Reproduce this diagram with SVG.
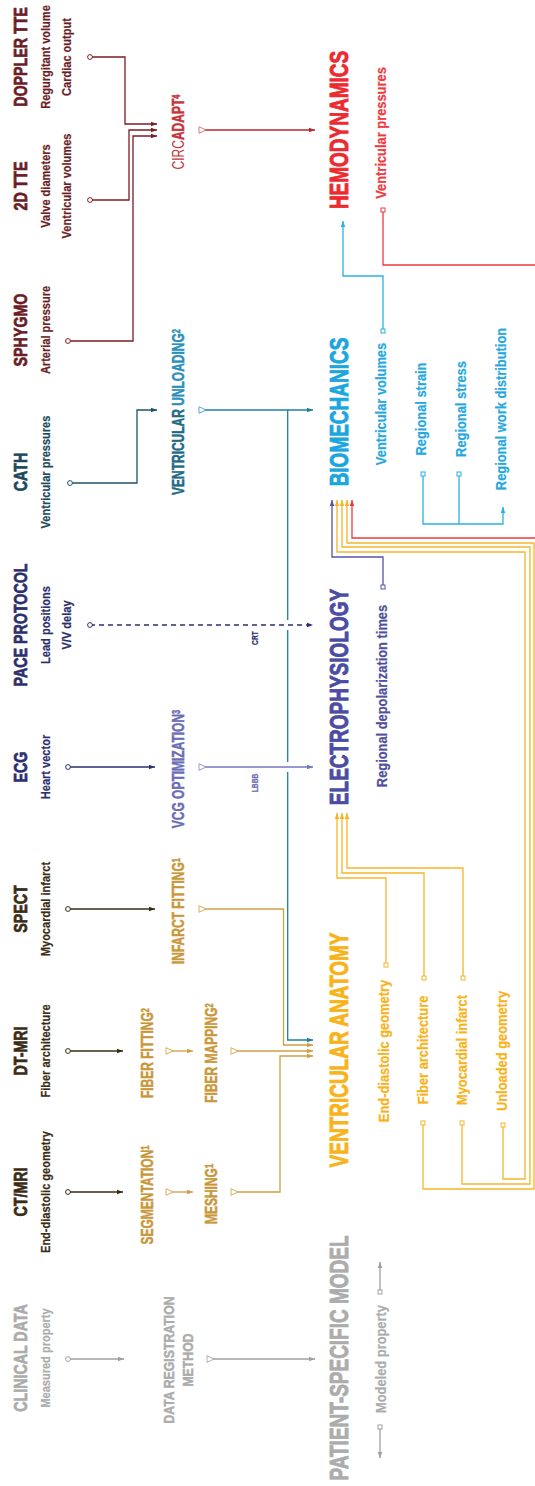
<svg xmlns="http://www.w3.org/2000/svg" width="535" height="1486" viewBox="0 0 535 1486">
<style>
text{font-family:'Liberation Sans',Arial,sans-serif;font-weight:bold;text-anchor:middle}
.h{font-size:19px;stroke-width:0.7}
.p{font-size:12px;stroke-width:0.2}
.m{font-size:16px;stroke-width:0.5}
.t{font-size:25px;stroke-width:0.9}
.q{font-size:14px;stroke-width:0.2}
.s{font-size:9px;stroke-width:0.2}
.d{font-size:15px;stroke-width:0.5}
.sup{font-size:10px}
.gray{fill:#acacac;stroke:#acacac}
.brown{fill:#3a2c14;stroke:#3a2c14}
.navy{fill:#2c2f6e;stroke:#2c2f6e}
.dteal{fill:#1c4a5c;stroke:#1c4a5c}
.maroon{fill:#6b1d25;stroke:#6b1d25}
.gold{fill:#c9973a;stroke:#c9973a}
.slate{fill:#6b6db5;stroke:#6b6db5}
.yellow{fill:#f8b31b;stroke:#f8b31b}
.purple{fill:#4f4f9e;stroke:#4f4f9e}
.cyan{fill:#25a8e0;stroke:#25a8e0}
.red{fill:#ec2a30;stroke:#ec2a30}
</style>
<defs>
<marker id="aGray" viewBox="0 0 6 6" refX="6" refY="3" markerWidth="6" markerHeight="6" orient="auto" markerUnits="userSpaceOnUse"><path d="M0,0.7L6,3L0,5.3z" fill="#a0a0a0"/></marker>
<marker id="aBrown" viewBox="0 0 6 6" refX="6" refY="3" markerWidth="6" markerHeight="6" orient="auto" markerUnits="userSpaceOnUse"><path d="M0,0.7L6,3L0,5.3z" fill="#3a2c14"/></marker>
<marker id="aNavy" viewBox="0 0 6 6" refX="6" refY="3" markerWidth="6" markerHeight="6" orient="auto" markerUnits="userSpaceOnUse"><path d="M0,0.7L6,3L0,5.3z" fill="#2c2f6e"/></marker>
<marker id="aDteal" viewBox="0 0 6 6" refX="6" refY="3" markerWidth="6" markerHeight="6" orient="auto" markerUnits="userSpaceOnUse"><path d="M0,0.7L6,3L0,5.3z" fill="#1d5466"/></marker>
<marker id="aMaroon" viewBox="0 0 6 6" refX="6" refY="3" markerWidth="6" markerHeight="6" orient="auto" markerUnits="userSpaceOnUse"><path d="M0,0.7L6,3L0,5.3z" fill="#7c1d25"/></marker>
<marker id="aGold" viewBox="0 0 6 6" refX="6" refY="3" markerWidth="6" markerHeight="6" orient="auto" markerUnits="userSpaceOnUse"><path d="M0,0.7L6,3L0,5.3z" fill="#cf9f42"/></marker>
<marker id="aTeal" viewBox="0 0 6 6" refX="6" refY="3" markerWidth="6" markerHeight="6" orient="auto" markerUnits="userSpaceOnUse"><path d="M0,0.7L6,3L0,5.3z" fill="#1c7fa6"/></marker>
<marker id="aSlate" viewBox="0 0 6 6" refX="6" refY="3" markerWidth="6" markerHeight="6" orient="auto" markerUnits="userSpaceOnUse"><path d="M0,0.7L6,3L0,5.3z" fill="#7577bd"/></marker>
<marker id="aCirc" viewBox="0 0 6 6" refX="6" refY="3" markerWidth="6" markerHeight="6" orient="auto" markerUnits="userSpaceOnUse"><path d="M0,0.7L6,3L0,5.3z" fill="#b8262e"/></marker>
<marker id="aRed" viewBox="0 0 6 6" refX="6" refY="3" markerWidth="6" markerHeight="6" orient="auto" markerUnits="userSpaceOnUse"><path d="M0,0.7L6,3L0,5.3z" fill="#ec3a42"/></marker>
<marker id="aCyan" viewBox="0 0 6 6" refX="6" refY="3" markerWidth="6" markerHeight="6" orient="auto" markerUnits="userSpaceOnUse"><path d="M0,0.7L6,3L0,5.3z" fill="#2bb0e3"/></marker>
<marker id="aYellow" viewBox="0 0 6 6" refX="6" refY="3" markerWidth="6" markerHeight="6" orient="auto" markerUnits="userSpaceOnUse"><path d="M0,0.7L6,3L0,5.3z" fill="#f6b529"/></marker>
<marker id="aPurple" viewBox="0 0 6 6" refX="6" refY="3" markerWidth="6" markerHeight="6" orient="auto" markerUnits="userSpaceOnUse"><path d="M0,0.7L6,3L0,5.3z" fill="#5555a8"/></marker>
<marker id="cGray" viewBox="0 0 7 7" refX="3.5" refY="3.5" markerWidth="7" markerHeight="7" markerUnits="userSpaceOnUse"><circle cx="3.5" cy="3.5" r="2.4" fill="#fff" stroke="#a0a0a0" stroke-width="1"/></marker>
<marker id="cBrown" viewBox="0 0 7 7" refX="3.5" refY="3.5" markerWidth="7" markerHeight="7" markerUnits="userSpaceOnUse"><circle cx="3.5" cy="3.5" r="2.4" fill="#fff" stroke="#3a2c14" stroke-width="1"/></marker>
<marker id="cNavy" viewBox="0 0 7 7" refX="3.5" refY="3.5" markerWidth="7" markerHeight="7" markerUnits="userSpaceOnUse"><circle cx="3.5" cy="3.5" r="2.4" fill="#fff" stroke="#2c2f6e" stroke-width="1"/></marker>
<marker id="cDteal" viewBox="0 0 7 7" refX="3.5" refY="3.5" markerWidth="7" markerHeight="7" markerUnits="userSpaceOnUse"><circle cx="3.5" cy="3.5" r="2.4" fill="#fff" stroke="#1d5466" stroke-width="1"/></marker>
<marker id="cMaroon" viewBox="0 0 7 7" refX="3.5" refY="3.5" markerWidth="7" markerHeight="7" markerUnits="userSpaceOnUse"><circle cx="3.5" cy="3.5" r="2.4" fill="#fff" stroke="#7c1d25" stroke-width="1"/></marker>
<marker id="tGray" viewBox="0 0 9 9" refX="1" refY="4.5" markerWidth="9" markerHeight="9" orient="auto" markerUnits="userSpaceOnUse"><path d="M1,1.2L8,4.5L1,7.8z" fill="#fff" stroke="#b0b0b0" stroke-width="1"/></marker>
<marker id="tGold" viewBox="0 0 9 9" refX="1" refY="4.5" markerWidth="9" markerHeight="9" orient="auto" markerUnits="userSpaceOnUse"><path d="M1,1.2L8,4.5L1,7.8z" fill="#fff" stroke="#d8ad5c" stroke-width="1"/></marker>
<marker id="tTeal" viewBox="0 0 9 9" refX="1" refY="4.5" markerWidth="9" markerHeight="9" orient="auto" markerUnits="userSpaceOnUse"><path d="M1,1.2L8,4.5L1,7.8z" fill="#fff" stroke="#5aa9c8" stroke-width="1"/></marker>
<marker id="tSlate" viewBox="0 0 9 9" refX="1" refY="4.5" markerWidth="9" markerHeight="9" orient="auto" markerUnits="userSpaceOnUse"><path d="M1,1.2L8,4.5L1,7.8z" fill="#fff" stroke="#9a9cd0" stroke-width="1"/></marker>
<marker id="tCirc" viewBox="0 0 9 9" refX="1" refY="4.5" markerWidth="9" markerHeight="9" orient="auto" markerUnits="userSpaceOnUse"><path d="M1,1.2L8,4.5L1,7.8z" fill="#fff" stroke="#de7a80" stroke-width="1"/></marker>
<marker id="sGray" viewBox="0 0 6 6" refX="3" refY="3" markerWidth="6" markerHeight="6" markerUnits="userSpaceOnUse"><rect x="1" y="1" width="4" height="4" fill="#fff" stroke="#a0a0a0" stroke-width="1"/></marker>
<marker id="sRed" viewBox="0 0 6 6" refX="3" refY="3" markerWidth="6" markerHeight="6" markerUnits="userSpaceOnUse"><rect x="1" y="1" width="4" height="4" fill="#fff" stroke="#ec3a42" stroke-width="1"/></marker>
<marker id="sCyan" viewBox="0 0 6 6" refX="3" refY="3" markerWidth="6" markerHeight="6" markerUnits="userSpaceOnUse"><rect x="1" y="1" width="4" height="4" fill="#fff" stroke="#2bb0e3" stroke-width="1"/></marker>
<marker id="sPurple" viewBox="0 0 6 6" refX="3" refY="3" markerWidth="6" markerHeight="6" markerUnits="userSpaceOnUse"><rect x="1" y="1" width="4" height="4" fill="#fff" stroke="#5555a8" stroke-width="1"/></marker>
<marker id="sYellow" viewBox="0 0 6 6" refX="3" refY="3" markerWidth="6" markerHeight="6" markerUnits="userSpaceOnUse"><rect x="1" y="1" width="4" height="4" fill="#fff" stroke="#f6b529" stroke-width="1"/></marker>
</defs>
<rect width="535" height="1486" fill="#fff"/>

<g id="connectors" fill="none" stroke-width="1.3">
<path d="M68 1359H124" stroke="#a0a0a0" marker-start="url(#cGray)" marker-end="url(#aGray)"/>
<path d="M207 1359H315" stroke="#a0a0a0" marker-start="url(#tGray)" marker-end="url(#aGray)"/>
<path d="M380 1292V1262" stroke="#a0a0a0" marker-start="url(#sGray)" marker-end="url(#aGray)"/>
<path d="M380 1427V1458" stroke="#a0a0a0" marker-start="url(#sGray)" marker-end="url(#aGray)"/>
<path d="M68 1192H123" stroke="#3a2c14" marker-start="url(#cBrown)" marker-end="url(#aBrown)"/>
<path d="M68 1051H123" stroke="#3a2c14" marker-start="url(#cBrown)" marker-end="url(#aBrown)"/>
<path d="M68 909H155" stroke="#3a2c14" marker-start="url(#cBrown)" marker-end="url(#aBrown)"/>
<path d="M68 767H155" stroke="#2c2f6e" marker-start="url(#cNavy)" marker-end="url(#aNavy)"/>
<path d="M90 625H313" stroke="#2c2f6e" stroke-dasharray="5 4" marker-start="url(#cNavy)" marker-end="url(#aNavy)"/>
<path d="M70 483H137V410H157" stroke="#1d5466" marker-start="url(#cDteal)" marker-end="url(#aDteal)"/>
<path d="M68 341H133V136H157" stroke="#7c1d25" marker-start="url(#cMaroon)" marker-end="url(#aMaroon)"/>
<path d="M90 200H129V130H157" stroke="#7c1d25" marker-start="url(#cMaroon)" marker-end="url(#aMaroon)"/>
<path d="M90 57H125V124H157" stroke="#7c1d25" marker-start="url(#cMaroon)" marker-end="url(#aMaroon)"/>
<path d="M166 1192H193" stroke="#cf9f42" marker-start="url(#tGold)" marker-end="url(#aGold)"/>
<path d="M166 1051H193" stroke="#cf9f42" marker-start="url(#tGold)" marker-end="url(#aGold)"/>
<path d="M231 1192H280V1056H313" stroke="#cf9f42" marker-start="url(#tGold)" marker-end="url(#aGold)"/>
<path d="M231 1051H313" stroke="#cf9f42" marker-start="url(#tGold)" marker-end="url(#aGold)"/>
<path d="M199 909H283.5V1045H313" stroke="#cf9f42" marker-start="url(#tGold)" marker-end="url(#aGold)"/>
<path d="M199 410H313" stroke="#1c7fa6" marker-start="url(#tTeal)" marker-end="url(#aTeal)"/>
<path d="M287.7 410V620M287.7 630V762" stroke="#1c7fa6"/>
<path d="M287.7 772V1040H313" stroke="#1c7fa6" marker-end="url(#aTeal)"/>
<path d="M199 767H313" stroke="#7577bd" marker-start="url(#tSlate)" marker-end="url(#aSlate)"/>
<path d="M199 130H315" stroke="#b8262e" marker-start="url(#tCirc)" marker-end="url(#aCirc)"/>
<path d="M383 210V265H540V538H352V500" stroke="#ec3a42" marker-start="url(#sRed)" marker-end="url(#aRed)"/>
<path d="M383 331V276H343V221" stroke="#2bb0e3" marker-start="url(#sCyan)" marker-end="url(#aCyan)"/>
<path d="M423 474V524H503V507" stroke="#2bb0e3" marker-start="url(#sCyan)" marker-end="url(#aCyan)"/>
<path d="M459 474V524" stroke="#2bb0e3" marker-start="url(#sCyan)"/>
<path d="M383 587V557H332V500" stroke="#5555a8" marker-start="url(#sPurple)" marker-end="url(#aPurple)"/>
<path d="M386 965V878H337V813" stroke="#f6b529" marker-start="url(#sYellow)" marker-end="url(#aYellow)"/>
<path d="M424 978V873H342V813" stroke="#f6b529" marker-start="url(#sYellow)" marker-end="url(#aYellow)"/>
<path d="M463 978V868H347V813" stroke="#f6b529" marker-start="url(#sYellow)" marker-end="url(#aYellow)"/>
<path d="M423 1123V1189H534V543H347V500" stroke="#f6b529" marker-start="url(#sYellow)" marker-end="url(#aYellow)"/>
<path d="M462 1123V1184H530V547H342V500" stroke="#f6b529" marker-start="url(#sYellow)" marker-end="url(#aYellow)"/>
<path d="M503 1125V1179H525V552H337V500" stroke="#f6b529" marker-start="url(#sYellow)" marker-end="url(#aYellow)"/>
</g>

<g id="legend-clinical">
<text class="h gray" transform="translate(27 1358) rotate(-90) scale(0.75 1)">CLINICAL DATA</text>
<text class="p gray" transform="translate(50 1358) rotate(-90) scale(0.92 1)">Measured property</text>
</g>
<g id="legend-method">
<text class="d gray" transform="translate(174 1360) rotate(-90) scale(0.82 1)">DATA REGISTRATION</text>
<text class="d gray" transform="translate(193 1360) rotate(-90) scale(0.82 1)">METHOD</text>
</g>
<g id="legend-model">
<text class="t gray" transform="translate(348 1358) rotate(-90) scale(0.76 1)">PATIENT-SPECIFIC MODEL</text>
<text class="q gray" transform="translate(386 1359) rotate(-90) scale(0.92 1)">Modeled property</text>
</g>

<g id="ct-mri">
<text class="h brown" transform="translate(27 1192) rotate(-90) scale(0.75 1)">CT/MRI</text>
<text class="p brown" transform="translate(50 1192) rotate(-90) scale(0.92 1)">End-diastolic geometry</text>
</g>
<g id="dt-mri">
<text class="h brown" transform="translate(27 1051) rotate(-90) scale(0.75 1)">DT-MRI</text>
<text class="p brown" transform="translate(50 1051) rotate(-90) scale(0.92 1)">Fiber architecture</text>
</g>
<g id="spect">
<text class="h brown" transform="translate(27 909) rotate(-90) scale(0.75 1)">SPECT</text>
<text class="p brown" transform="translate(50 909) rotate(-90) scale(0.92 1)">Myocardial infarct</text>
</g>
<g id="ecg">
<text class="h navy" transform="translate(27 767) rotate(-90) scale(0.75 1)">ECG</text>
<text class="p navy" transform="translate(50 767) rotate(-90) scale(0.92 1)">Heart vector</text>
</g>
<g id="pace-protocol">
<text class="h navy" transform="translate(27 625) rotate(-90) scale(0.75 1)">PACE PROTOCOL</text>
<text class="p navy" transform="translate(50 625) rotate(-90) scale(0.92 1)">Lead positions</text>
<text class="p navy" transform="translate(71 625) rotate(-90) scale(0.92 1)">V/V delay</text>
</g>
<g id="cath">
<text class="h dteal" transform="translate(27 472) rotate(-90) scale(0.75 1)">CATH</text>
<text class="p dteal" transform="translate(50 472) rotate(-90) scale(0.92 1)">Ventricular pressures</text>
</g>
<g id="sphygmo">
<text class="h maroon" transform="translate(27 330) rotate(-90) scale(0.75 1)">SPHYGMO</text>
<text class="p maroon" transform="translate(50 330) rotate(-90) scale(0.92 1)">Arterial pressure</text>
</g>
<g id="tte-2d">
<text class="h maroon" transform="translate(27 186) rotate(-90) scale(0.75 1)">2D TTE</text>
<text class="p maroon" transform="translate(50 186) rotate(-90) scale(0.92 1)">Valve diameters</text>
<text class="p maroon" transform="translate(71 186) rotate(-90) scale(0.92 1)">Ventricular volumes</text>
</g>
<g id="doppler-tte">
<text class="h maroon" transform="translate(27 57) rotate(-90) scale(0.75 1)">DOPPLER TTE</text>
<text class="p maroon" transform="translate(50 57) rotate(-90) scale(0.92 1)">Regurgitant volume</text>
<text class="p maroon" transform="translate(71 57) rotate(-90) scale(0.92 1)">Cardiac output</text>
</g>

<g id="segmentation"><text class="m gold" transform="translate(153 1195) rotate(-90) scale(0.75 1)">SEGMENTATION<tspan class="sup" dy="-4.5">1</tspan></text></g>
<g id="fiber-fitting"><text class="m gold" transform="translate(153 1053) rotate(-90) scale(0.75 1)">FIBER FITTING<tspan class="sup" dy="-4.5">2</tspan></text></g>
<g id="infarct-fitting"><text class="m gold" transform="translate(184 911) rotate(-90) scale(0.75 1)">INFARCT FITTING<tspan class="sup" dy="-4.5">1</tspan></text></g>
<g id="vcg-optimization"><text class="m slate" transform="translate(184 769) rotate(-90) scale(0.75 1)">VCG OPTIMIZATION<tspan class="sup" dy="-4.5">3</tspan></text></g>
<g id="ventricular-unloading"><text class="m" transform="translate(184 412) rotate(-90) scale(0.75 1)"><tspan fill="#1e6b86" stroke="#1e6b86">VENTRICULAR </tspan><tspan fill="#2a8fba" stroke="#2a8fba">UNLOADING</tspan><tspan class="sup" dy="-4.5" fill="#2a8fba" stroke="#2a8fba">2</tspan></text></g>
<g id="circadapt"><text class="m" fill="#c8323a" stroke="#c8323a" transform="translate(184 132) rotate(-90) scale(0.75 1)"><tspan font-weight="normal" stroke="none">CIRC</tspan>ADAPT<tspan class="sup" dy="-4.5">4</tspan></text></g>
<g id="meshing"><text class="m gold" transform="translate(217 1194) rotate(-90) scale(0.75 1)">MESHING<tspan class="sup" dy="-4.5">1</tspan></text></g>
<g id="fiber-mapping"><text class="m gold" transform="translate(217 1053) rotate(-90) scale(0.75 1)">FIBER MAPPING<tspan class="sup" dy="-4.5">2</tspan></text></g>

<g id="label-crt"><text class="s navy" transform="translate(258 638) rotate(-90) scale(0.75 1)">CRT</text></g>
<g id="label-lbbb"><text class="s slate" transform="translate(258 783) rotate(-90) scale(0.75 1)">LBBB</text></g>

<g id="hemodynamics">
<text class="t red" transform="translate(348 130) rotate(-90) scale(0.76 1)">HEMODYNAMICS</text>
<text class="q" fill="#ee3a40" stroke="#ee3a40" transform="translate(386 133) rotate(-90) scale(0.92 1)">Ventricular pressures</text>
</g>
<g id="biomechanics">
<text class="t" fill="#1ba6df" stroke="#1ba6df" transform="translate(348 412) rotate(-90) scale(0.76 1)">BIOMECHANICS</text>
<text class="q cyan" transform="translate(386 404) rotate(-90) scale(0.92 1)">Ventricular volumes</text>
<text class="q cyan" transform="translate(426 409) rotate(-90) scale(0.92 1)">Regional strain</text>
<text class="q cyan" transform="translate(465.5 409) rotate(-90) scale(0.92 1)">Regional stress</text>
<text class="q cyan" transform="translate(506 409) rotate(-90) scale(0.92 1)">Regional work distribution</text>
</g>
<g id="electrophysiology">
<text class="t" fill="#4c4ca3" stroke="#4c4ca3" transform="translate(348 697) rotate(-90) scale(0.76 1)">ELECTROPHYSIOLOGY</text>
<text class="q purple" transform="translate(387 696) rotate(-90) scale(0.92 1)">Regional depolarization times</text>
</g>
<g id="ventricular-anatomy">
<text class="t yellow" transform="translate(348 1050) rotate(-90) scale(0.76 1)">VENTRICULAR ANATOMY</text>
<text class="q yellow" transform="translate(389 1051) rotate(-90) scale(0.92 1)">End-diastolic geometry</text>
<text class="q yellow" transform="translate(428 1050) rotate(-90) scale(0.92 1)">Fiber architecture</text>
<text class="q yellow" transform="translate(467 1050) rotate(-90) scale(0.92 1)">Myocardial infarct</text>
<text class="q yellow" transform="translate(507 1051) rotate(-90) scale(0.92 1)">Unloaded geometry</text>
</g>
</svg>
